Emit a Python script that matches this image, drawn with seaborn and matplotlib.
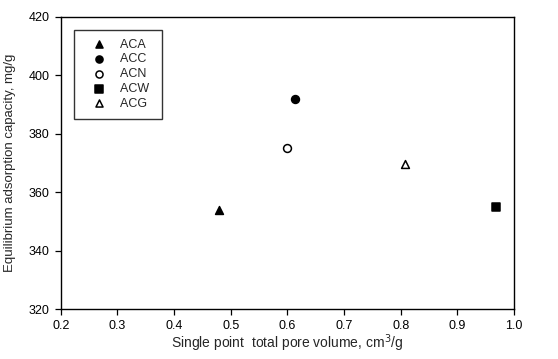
import matplotlib
matplotlib.use("Agg")
import matplotlib.pyplot as plt
import seaborn as sns
import pandas as pd

samples = ["ACA", "ACC", "ACN", "ACW", "ACG"]
pore_volume = [0.48, 0.613, 0.60, 0.968, 0.808]
capacity = [354, 392, 375, 355, 369.5]
markers = ["^", "o", "o", "s", "^"]
filled = [True, True, False, True, False]

x_ticks = [0.2, 0.3, 0.4, 0.5, 0.6, 0.7, 0.8, 0.9, 1.0]
y_ticks = [320, 340, 360, 380, 400, 420]

sns.set_theme(style="ticks")
plt.rcParams['font.family'] = ['Liberation Sans', 'DejaVu Sans']

df = pd.DataFrame({"sample": samples, "x": pore_volume, "y": capacity})

fig = plt.figure(figsize=(5.58, 3.59), dpi=100)
ax = fig.add_axes([0.109, 0.139, 0.812, 0.814])

for s, m, f in zip(samples, markers, filled):
    sub = df[df["sample"] == s]
    sns.scatterplot(data=sub, x="x", y="y", ax=ax, marker=m, s=32,
                    color="black" if f else "white",
                    edgecolor="black", linewidth=1.1, label=s)

ax.set_xlim(0.2, 1.0)
ax.set_ylim(320, 420)
ax.set_xticks(x_ticks)
ax.set_xticklabels([f"{v:.1f}" for v in x_ticks])
ax.set_yticks(y_ticks)
ax.tick_params(direction="out", length=4, width=0.9, labelsize=9, colors="black", pad=4)
for sp in ax.spines.values():
    sp.set_visible(True)
    sp.set_linewidth(1.0)
    sp.set_color("black")

ax.set_xlabel("Single point  total pore volume, cm$^3$/g", fontsize=10, labelpad=0)
ax.set_ylabel("Equilibrium adsorption capacity, mg/g", fontsize=9.5, labelpad=9)

handles, labels = ax.get_legend_handles_labels()
leg = ax.legend(handles, [l + " " for l in labels], loc="upper left",
                bbox_to_anchor=(0.029, 0.956), borderaxespad=0, frameon=True,
                fancybox=False, edgecolor="black", fontsize=9, handletextpad=0.4,
                borderpad=0.72, labelspacing=0.22, handlelength=2.6, markerscale=0.9)
leg.get_frame().set_linewidth(1.0)

fig.savefig("out.png", dpi=100)
